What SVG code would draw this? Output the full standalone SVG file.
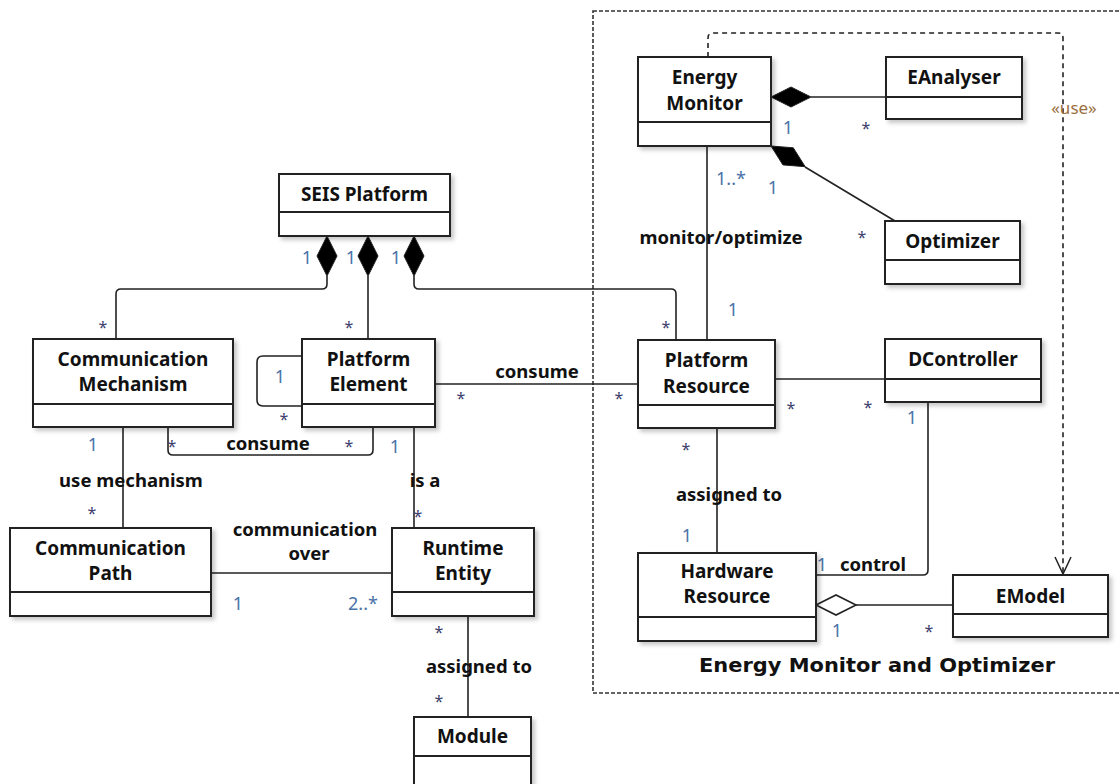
<svg xmlns="http://www.w3.org/2000/svg" width="1120" height="784" viewBox="0 0 1120 784">
<defs>
<filter id="sh" x="-10%" y="-10%" width="130%" height="130%">
<feDropShadow dx="3" dy="3" stdDeviation="2" flood-color="#000" flood-opacity="0.22"/>
</filter>
<marker id="open" markerWidth="22" markerHeight="22" refX="18" refY="10" orient="auto" markerUnits="userSpaceOnUse">
<path d="M1,2 L18,10 L1,18" fill="none" stroke="#222" stroke-width="1.5"/>
</marker>
</defs>
<style>
.box{fill:#fff;stroke:#222;stroke-width:2;filter:url(#sh)}
.div{stroke:#222;stroke-width:2}
.cn{font-family:"Noto Sans","DejaVu Sans",sans-serif;font-weight:bold;font-size:19px;fill:#111;text-anchor:middle}
.lb{font-family:"Noto Sans","DejaVu Sans",sans-serif;font-weight:bold;font-size:18.5px;fill:#111;text-anchor:middle}
.m{font-family:"Noto Sans","DejaVu Sans",sans-serif;font-size:18px;fill:#4a72a8;text-anchor:middle}
.st{font-family:"Noto Sans","DejaVu Sans",sans-serif;font-size:16px;fill:#40406e;text-anchor:middle}
.ln{fill:none;stroke:#222;stroke-width:1.6}
.dia{fill:#000;stroke:#222;stroke-width:1}
.agg{fill:#fff;stroke:#222;stroke-width:1.6}
.dash{fill:none;stroke:#222;stroke-width:1.6;stroke-dasharray:5,4}
.frame{fill:none;stroke:#333;stroke-width:1.6;stroke-dasharray:4,2}
.use{font-family:"Noto Sans","DejaVu Sans",sans-serif;font-size:17px;fill:#9a7040;text-anchor:middle}
.title{font-family:"DejaVu Sans",sans-serif;font-weight:bold;font-size:19px;fill:#111;text-anchor:middle}
</style>
<rect x="0" y="0" width="1120" height="784" fill="#fff"/>

<g id="frame">
<rect class="frame" x="593" y="11" width="540" height="682"/>
<text class="title" x="877" y="672" textLength="356" lengthAdjust="spacingAndGlyphs">Energy Monitor and Optimizer</text>
</g>

<g id="connectors">
<path class="ln" d="M327,276 V284 Q327,289 322,289 H121 Q116,289 116,294 V339"/>
<polygon class="dia" points="327,236 337,256 327,276 317,256"/>
<path class="ln" d="M368,276 V339"/>
<polygon class="dia" points="368,236 378,256 368,276 358,256"/>
<path class="ln" d="M414,276 V284 Q414,289 419,289 H671 Q676,289 676,294 V340"/>
<polygon class="dia" points="414,236 424,256 414,276 404,256"/>
<path class="ln" d="M302,356 H263 Q257,356 257,362 V400 Q257,406 263,406 H302"/>
<path class="ln" d="M168,427 V450 Q168,455 173,455 H368 Q373,455 373,450 V427"/>
<path class="ln" d="M123,427 V528"/>
<path class="ln" d="M414,427 V528"/>
<path class="ln" d="M211,573 H392"/>
<path class="ln" d="M468,616 V717"/>
<path class="ln" d="M435,384 H638"/>
<path class="ln" d="M775,379 H885"/>
<path class="ln" d="M707,146 V340"/>
<path class="ln" d="M811,97 H886"/>
<polygon class="dia" points="771,97 791,87 811,97 791,107"/>
<path class="ln" d="M805,167 L895,221"/>
<polygon class="dia" points="771,146 782.9,164.9 805.2,166.7 793.3,147.8"/>
<path class="ln" d="M717,428 V553"/>
<path class="ln" d="M928,402 V570 Q928,575 923,575 H816"/>
<path class="ln" d="M856,605 H953"/>
<polygon class="agg" points="816,605 836,595 856,605 836,615"/>
<path class="dash" d="M708,57 V38 Q708,33 713,33 H1058 Q1063,33 1063,38 V574" marker-end="url(#open)"/>
<text class="use" x="1074" y="114">«use»</text>

<text class="m" x="307" y="264">1</text>
<text class="m" x="351" y="264">1</text>
<text class="m" x="396" y="264">1</text>
<text class="st" x="103" y="333">*</text>
<text class="st" x="349" y="333">*</text>
<text class="st" x="666" y="333">*</text>
<text class="m" x="280" y="383">1</text>
<text class="st" x="284" y="425">*</text>
<text class="st" x="172" y="452">*</text>
<text class="st" x="349" y="452">*</text>
<text class="lb" x="268" y="450">consume</text>
<text class="m" x="93" y="451">1</text>
<text class="lb" x="131" y="487">use mechanism</text>
<text class="st" x="92" y="519">*</text>
<text class="m" x="395" y="453">1</text>
<text class="lb" x="425" y="487">is a</text>
<text class="st" x="418" y="522">*</text>
<text class="lb" x="305" y="536">communication</text>
<text class="lb" x="309" y="560">over</text>
<text class="m" x="238" y="610">1</text>
<text class="m" x="363" y="610">2..*</text>
<text class="st" x="439" y="638">*</text>
<text class="lb" x="479" y="673">assigned to</text>
<text class="st" x="439" y="707">*</text>
<text class="lb" x="537" y="378">consume</text>
<text class="st" x="461" y="404">*</text>
<text class="st" x="619" y="404">*</text>
<text class="m" x="788" y="134">1</text>
<text class="st" x="866" y="134">*</text>
<text class="m" x="731" y="185">1..*</text>
<text class="m" x="773" y="194">1</text>
<text class="st" x="862" y="243">*</text>
<text class="lb" x="721" y="244">monitor/optimize</text>
<text class="m" x="733" y="316">1</text>
<text class="st" x="791" y="414">*</text>
<text class="st" x="868" y="413">*</text>
<text class="m" x="912" y="424">1</text>
<text class="st" x="686" y="455">*</text>
<text class="lb" x="729" y="501">assigned to</text>
<text class="m" x="687" y="542">1</text>
<text class="m" x="822" y="571">1</text>
<text class="lb" x="873" y="571">control</text>
<text class="m" x="837" y="637">1</text>
<text class="st" x="929" y="637">*</text>
</g>

<g id="seis-platform">
<rect class="box" x="279" y="174" width="171" height="62"/>
<line class="div" x1="279" y1="212" x2="450" y2="212"/>
<text class="cn" x="364.5" y="201">SEIS Platform</text>
</g>
<g id="communication-mechanism">
<rect class="box" x="33" y="339" width="200" height="88"/>
<line class="div" x1="33" y1="404" x2="233" y2="404"/>
<text class="cn" x="133" y="366">Communication</text>
<text class="cn" x="133" y="391">Mechanism</text>
</g>
<g id="platform-element">
<rect class="box" x="302" y="339" width="133" height="88"/>
<line class="div" x1="302" y1="404" x2="435" y2="404"/>
<text class="cn" x="368.5" y="366">Platform</text>
<text class="cn" x="368.5" y="391">Element</text>
</g>
<g id="platform-resource">
<rect class="box" x="638" y="340" width="137" height="88"/>
<line class="div" x1="638" y1="405" x2="775" y2="405"/>
<text class="cn" x="706.5" y="367">Platform</text>
<text class="cn" x="706.5" y="393">Resource</text>
</g>
<g id="dcontroller">
<rect class="box" x="885" y="339" width="156" height="63"/>
<line class="div" x1="885" y1="379" x2="1041" y2="379"/>
<text class="cn" x="963" y="366">DController</text>
</g>
<g id="energy-monitor">
<rect class="box" x="638" y="57" width="133" height="89"/>
<line class="div" x1="638" y1="122" x2="771" y2="122"/>
<text class="cn" x="704.5" y="84">Energy</text>
<text class="cn" x="704.5" y="110">Monitor</text>
</g>
<g id="eanalyser">
<rect class="box" x="886" y="57" width="136" height="62"/>
<line class="div" x1="886" y1="97" x2="1022" y2="97"/>
<text class="cn" x="954" y="84">EAnalyser</text>
</g>
<g id="optimizer">
<rect class="box" x="885" y="221" width="135" height="63"/>
<line class="div" x1="885" y1="260" x2="1020" y2="260"/>
<text class="cn" x="952.5" y="248">Optimizer</text>
</g>
<g id="communication-path">
<rect class="box" x="10" y="528" width="201" height="88"/>
<line class="div" x1="10" y1="592" x2="211" y2="592"/>
<text class="cn" x="110.5" y="555">Communication</text>
<text class="cn" x="110.5" y="580">Path</text>
</g>
<g id="runtime-entity">
<rect class="box" x="392" y="528" width="142" height="88"/>
<line class="div" x1="392" y1="592" x2="534" y2="592"/>
<text class="cn" x="463" y="555">Runtime</text>
<text class="cn" x="463" y="580">Entity</text>
</g>
<g id="module">
<rect class="box" x="414" y="717" width="117" height="90"/>
<line class="div" x1="414" y1="756" x2="531" y2="756"/>
<text class="cn" x="472.5" y="743">Module</text>
</g>
<g id="hardware-resource">
<rect class="box" x="638" y="553" width="178" height="88"/>
<line class="div" x1="638" y1="617" x2="816" y2="617"/>
<text class="cn" x="727" y="578">Hardware</text>
<text class="cn" x="727" y="603">Resource</text>
</g>
<g id="emodel">
<rect class="box" x="953" y="575" width="155" height="62"/>
<line class="div" x1="953" y1="614" x2="1108" y2="614"/>
<text class="cn" x="1030.5" y="603">EModel</text>
</g>
</svg>
